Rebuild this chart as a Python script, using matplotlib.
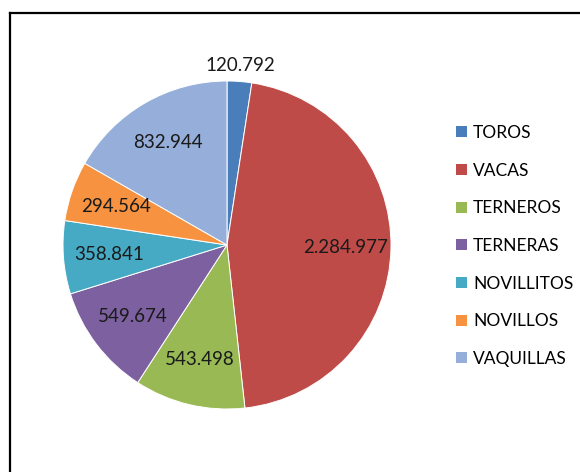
import numpy as np
import matplotlib
matplotlib.use("Agg")
import matplotlib.pyplot as plt
from matplotlib.lines import Line2D
from matplotlib.patches import Patch

# --Data--
categories = ["TOROS", "VACAS", "TERNEROS", "TERNERAS", "NOVILLITOS", "NOVILLOS", "VAQUILLAS"]
values = [120792, 2284977, 543498, 549674, 358841, 294564, 832944]
value_labels = ["120.792", "2.284.977", "543.498", "549.674", "358.841", "294.564", "832.944"]
colors = ["#4A7EBB", "#BE4B48", "#98B954", "#7D60A0", "#46AAC5", "#F69240", "#95AEDA"]

plt.rcParams['font.family'] = ['Lato', 'DejaVu Sans']

W, H = 580, 472
fig = plt.figure(figsize=(W / 100, H / 100), dpi=100)

# pie centre and radius in pixels
cx, cy, r = 227, 245, 164
ax = fig.add_axes([(cx - r) / W, 1 - (cy + r) / H, 2 * r / W, 2 * r / H])

wedges, _ = ax.pie(values, colors=colors, startangle=90, counterclock=False,
                   radius=1.0, wedgeprops=dict(edgecolor="white", linewidth=0.7))
ax.set_xlim(-1, 1)
ax.set_ylim(-1, 1)
ax.set_aspect("equal")
ax.axis("off")

# value labels at mid angle of each wedge
for i, w in enumerate(wedges):
    ang = np.deg2rad((w.theta1 + w.theta2) / 2)
    dist = 1.10 if i == 0 else 0.72
    ax.text(dist * np.cos(ang), dist * np.sin(ang), value_labels[i],
            ha="center", va="center", fontsize=13.5, color="#1a1a1a")

# legend
handles = [Patch(facecolor=c, edgecolor="none") for c in colors]
fig.legend(handles, categories, loc="center left", bbox_to_anchor=(0.772, 1 - 246 / H),
           frameon=False, fontsize=12.5, handlelength=0.6, handleheight=0.6,
           handletextpad=0.35, labelspacing=1.25, borderpad=0)

# frame edges (top and left only visible)
fig.add_artist(Line2D([10 / W, 1], [1 - 13 / H, 1 - 13 / H], color="black", lw=1.6))
fig.add_artist(Line2D([10 / W, 10 / W], [0, 1 - 13 / H], color="black", lw=1.6))

fig.savefig("out.png", dpi=100, facecolor="white")
